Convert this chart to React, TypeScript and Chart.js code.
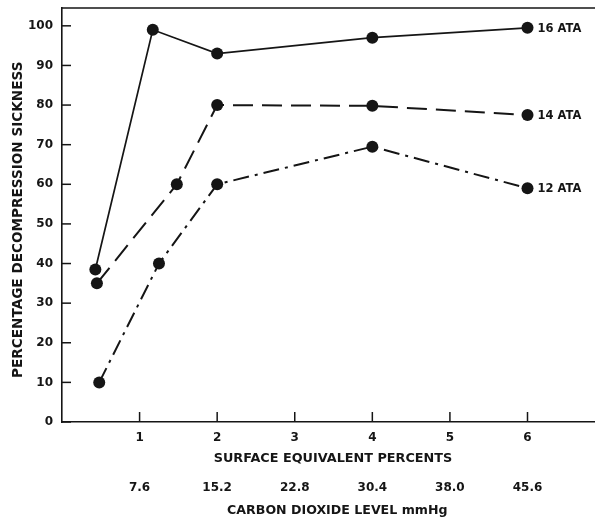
import React, { useEffect, useRef } from "react";
import { Chart, registerables } from "chart.js";

Chart.register(...registerables);

// Surface-equivalent CO2 percent (x) and % decompression sickness (y)
const ata16X = [0.43, 1.17, 2, 4, 6];
const ata16Y = [38.5, 99, 93, 97, 99.5];
const ata14X = [0.45, 1.48, 2, 4, 6];
const ata14Y = [35, 60, 80, 79.8, 77.5];
const ata12X = [0.48, 1.25, 2, 4, 6];
const ata12Y = [10, 40, 60, 69.5, 59];

const seriesLabels = ["16 ATA", "14 ATA", "12 ATA"];
const percentTicks = [1, 2, 3, 4, 5, 6];
const co2Labels = ["7.6", "15.2", "22.8", "30.4", "38.0", "45.6"];
const yTicks = [0, 10, 20, 30, 40, 50, 60, 70, 80, 90, 100];

const INK = "#151515";
const FONT = "'DejaVu Sans', sans-serif";

const toPts = (xs: number[], ys: number[]) => xs.map((x, i) => ({ x, y: ys[i] }));

const framePlugin = {
  id: "frame",
  afterDatasetsDraw(chart: any) {
    const { ctx, chartArea, scales } = chart;
    const x = scales.x;
    const y = scales.y;
    ctx.save();
    ctx.strokeStyle = INK;
    ctx.lineWidth = 1.6;
    // top border
    ctx.beginPath();
    ctx.moveTo(chartArea.left, chartArea.top);
    ctx.lineTo(chartArea.right, chartArea.top);
    ctx.stroke();
    // inward ticks
    ctx.lineWidth = 1.5;
    yTicks.forEach((v) => {
      const py = y.getPixelForValue(v);
      ctx.beginPath();
      ctx.moveTo(chartArea.left, py);
      ctx.lineTo(chartArea.left + 9, py);
      ctx.stroke();
    });
    percentTicks.forEach((v) => {
      const px = x.getPixelForValue(v);
      ctx.beginPath();
      ctx.moveTo(px, chartArea.bottom);
      ctx.lineTo(px, chartArea.bottom - 10);
      ctx.stroke();
    });
    // series labels next to last point
    ctx.fillStyle = INK;
    ctx.font = `bold 11.5px ${FONT}`;
    ctx.textBaseline = "middle";
    ctx.textAlign = "left";
    chart.data.datasets.forEach((ds: any, i: number) => {
      const meta = chart.getDatasetMeta(i);
      const last = meta.data[meta.data.length - 1];
      ctx.fillText(seriesLabels[i], last.x + 10, last.y + 1);
    });
    ctx.restore();
  },
};

const noPadX = (h: number) => (s: any) => {
  s.height = h;
  s.paddingLeft = 0;
  s.paddingRight = 0;
};

export default function App() {
  const ref = useRef<HTMLCanvasElement | null>(null);

  useEffect(() => {
    if (!ref.current) return;
    const common = {
      borderColor: INK,
      backgroundColor: INK,
      pointBackgroundColor: INK,
      pointBorderColor: INK,
      pointRadius: 6,
      pointBorderWidth: 0,
      fill: false,
      tension: 0,
      showLine: true,
    };
    const chart = new Chart(ref.current, {
      type: "scatter",
      data: {
        datasets: [
          { ...common, label: seriesLabels[0], data: toPts(ata16X, ata16Y), borderWidth: 1.7 },
          { ...common, label: seriesLabels[1], data: toPts(ata14X, ata14Y), borderWidth: 2, borderDash: [20, 9] },
          { ...common, label: seriesLabels[2], data: toPts(ata12X, ata12Y), borderWidth: 2, borderDash: [16, 6, 3, 6] },
        ],
      },
      options: {
        animation: false,
        responsive: false,
        devicePixelRatio: 1,
        layout: { autoPadding: false, padding: { top: 8, right: 0, bottom: 0, left: 0 } },
        plugins: { legend: { display: false }, tooltip: { enabled: false } },
        scales: {
          x: {
            type: "linear",
            position: "bottom",
            min: 0,
            max: 6.87,
            grid: { display: false, drawTicks: false },
            border: { display: true, color: INK, width: 1.6 },
            afterBuildTicks: (s: any) => {
              s.ticks = percentTicks.map((v) => ({ value: v }));
            },
            afterFit: noPadX(44),
            ticks: {
              color: INK,
              padding: 9,
              maxRotation: 0,
              autoSkip: false,
              font: { family: FONT, size: 12, weight: "bold" },
              callback: (v: any) => String(v),
            },
            title: {
              display: true,
              text: "  SURFACE EQUIVALENT PERCENTS",
              color: INK,
              padding: { top: 0, bottom: 0 },
              font: { family: FONT, size: 12.8, weight: "bold" },
            },
          },
          x2: {
            type: "linear",
            position: "bottom",
            min: 0,
            max: 6.87,
            grid: { display: false, drawTicks: false },
            border: { display: false },
            afterBuildTicks: (s: any) => {
              s.ticks = percentTicks.map((v) => ({ value: v }));
            },
            afterFit: noPadX(52),
            ticks: {
              color: INK,
              padding: 15,
              maxRotation: 0,
              autoSkip: false,
              font: { family: FONT, size: 12, weight: "bold" },
              callback: (v: any) => {
                const i = percentTicks.indexOf(Number(v));
                return i >= 0 ? co2Labels[i] : "";
              },
            },
            title: {
              display: true,
              text: "    CARBON DIOXIDE LEVEL mmHg",
              color: INK,
              padding: { top: 0, bottom: 0 },
              font: { family: FONT, size: 12.6, weight: "bold" },
            },
          },
          y: {
            type: "linear",
            position: "left",
            min: 0,
            max: 104.5,
            grid: { display: false, drawTicks: false },
            border: { display: true, color: INK, width: 1.6 },
            afterBuildTicks: (s: any) => {
              s.ticks = yTicks.map((v) => ({ value: v }));
            },
            afterFit: (s: any) => {
              s.width = 62;
              s.paddingTop = 0;
              s.paddingBottom = 0;
            },
            ticks: {
              color: INK,
              padding: 9,
              font: { family: FONT, size: 12, weight: "bold" },
            },
            title: {
              display: true,
              text: "PERCENTAGE DECOMPRESSION SICKNESS  ",
              color: INK,
              padding: { top: 10, bottom: 0 },
              font: { family: FONT, size: 13.6, weight: "bold" },
            },
          },
        },
      },
      plugins: [framePlugin],
    });
    return () => chart.destroy();
  }, []);

  return (
    <div style={{ position: "absolute", left: 0, top: 0, width: 595, height: 518, background: "#fff" }}>
      <canvas ref={ref} width={595} height={518} style={{ display: "block", width: 595, height: 518 }} />
    </div>
  );
}
